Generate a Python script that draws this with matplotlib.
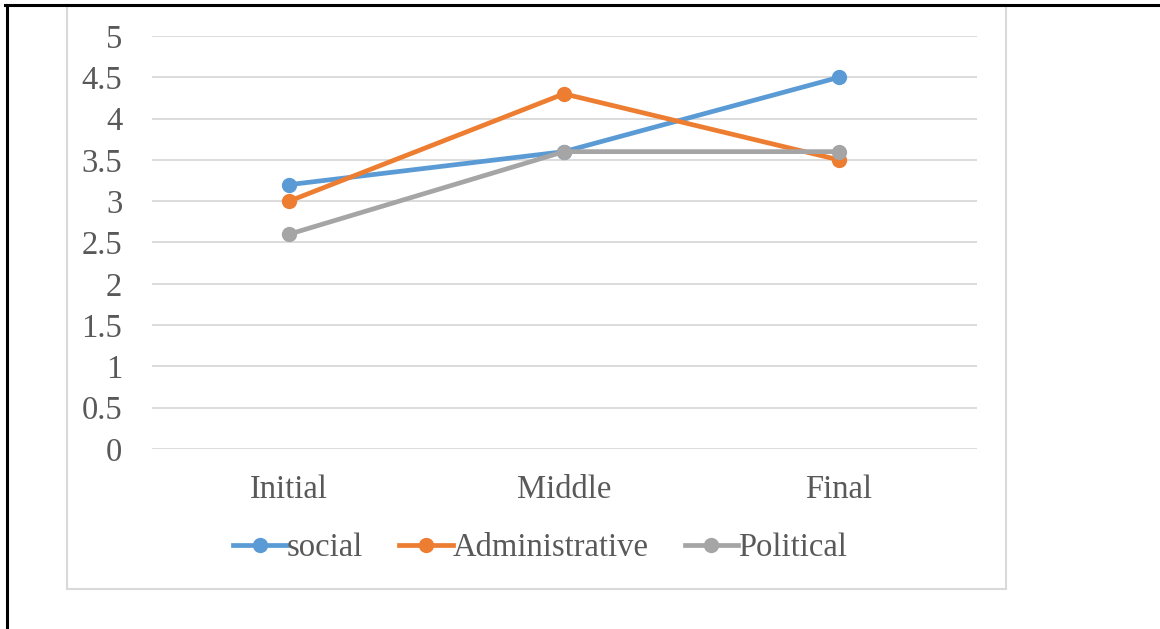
import matplotlib.pyplot as plt
from matplotlib.lines import Line2D
from matplotlib.patches import Rectangle

# data
stages = ["Initial", "Middle", "Final"]
social = [3.2, 3.6, 4.5]
administrative = [3.0, 4.3, 3.5]
political = [2.6, 3.6, 3.6]
yticks = [0, 0.5, 1, 1.5, 2, 2.5, 3, 3.5, 4, 4.5, 5]

W, H = 1160, 629
plt.rcParams['font.family'] = ['Liberation Serif', 'DejaVu Serif']

fig = plt.figure(figsize=(W / 100, H / 100), dpi=100)

# outer black border (top and left only)
fig.add_artist(Line2D([5 / W, 1], [1 - 5 / H, 1 - 5 / H], color='black', lw=2.2))
fig.add_artist(Line2D([7 / W, 7 / W], [0, 1 - 5 / H], color='black', lw=2.2))
# light gray chart frame
fig.add_artist(Rectangle((67 / W, 1 - 589 / H), (1006 - 67) / W, (589 - 6) / H,
                         fill=False, edgecolor='#D9D9D9', lw=1.5))

ax = fig.add_axes([151.5 / W, 1 - 449 / H, (976.5 - 151.5) / W, (449 - 36) / H])
x = range(len(stages))

ax.plot(x, social, color='#5B9BD5', lw=3.4, marker='o', ms=10, label='social', zorder=3)
ax.plot(x, administrative, color='#ED7D31', lw=3.4, marker='o', ms=10, label='Administrative', zorder=3)
ax.plot(x, political, color='#A5A5A5', lw=3.4, marker='o', ms=10, label='Political', zorder=3)

ax.set_xlim(-0.5, 2.5)
ax.set_ylim(0, 5)
ax.set_yticks(yticks)
ax.set_yticklabels([f"{v:g}" for v in yticks])
ax.set_xticks(list(x))
ax.set_xticklabels(stages)
ax.yaxis.grid(True, color='#D9D9D9', lw=1.3)
ax.set_axisbelow(True)
for s in ax.spines.values():
    s.set_visible(False)
ax.tick_params(axis='both', length=0, labelsize=23.5, colors='#595959')
ax.tick_params(axis='y', pad=21)
ax.tick_params(axis='x', pad=18)

leg = fig.legend(loc='center', bbox_to_anchor=(540 / W, 1 - 548 / H), ncol=3,
                 frameon=False, fontsize=23.5, handlelength=1.65, handletextpad=0.0,
                 columnspacing=1.1, labelcolor='#595959')

fig.savefig('out.png', dpi=100, facecolor='white')
